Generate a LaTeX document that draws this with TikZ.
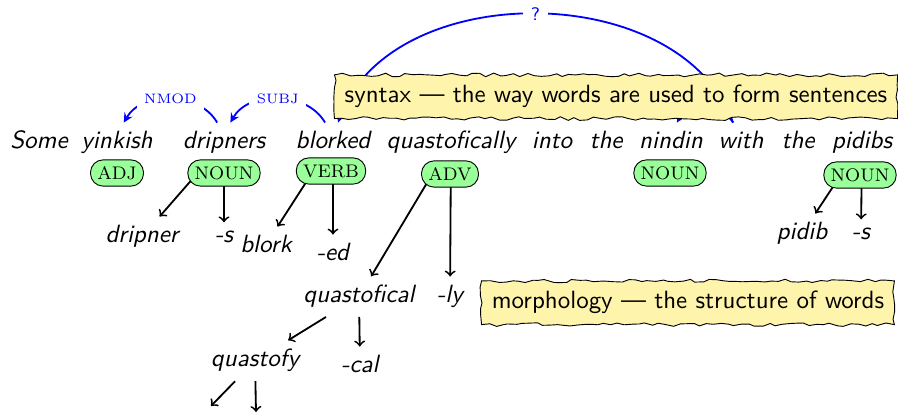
\documentclass[tikz,border=0pt]{standalone}
\usetikzlibrary{decorations.pathmorphing,arrows}
\definecolor{tagfill}{RGB}{153,255,153}
\definecolor{notefill}{RGB}{255,244,172}
\begin{document}
\begin{tikzpicture}[x=0.4386pt,y=0.4386pt,
  word/.style={font=\fontsize{10.95}{13.6}\selectfont\sffamily\itshape, anchor=base,
    inner xsep=3.6pt, inner ysep=3.8pt},
  tag/.style={draw, fill=tagfill, rounded corners=5.5pt,
    font=\fontsize{8}{9.5}\selectfont, inner xsep=3pt, inner ysep=0pt, minimum height=11.5pt},
  morphedge/.style={thick, ->},
  dep/.style={blue, thick, -stealth},
  deplabel/.style={fill=white, text=blue, font=\fontsize{6}{7}\selectfont},
  note/.style={draw, fill=notefill, font=\fontsize{10.95}{13.6}\selectfont\sffamily,
    anchor=base, inner xsep=4.5pt, inner ysep=4.6pt,
    decorate, decoration={random steps, segment length=3pt, amplitude=0.8pt}}
]
\pgfmathsetseed{7}
\useasboundingbox (0,0) rectangle (898,-413);

% the sentence
\node[word] (w1)  at (39,-149)  {Some};
\node[word] (w2)  at (117,-149) {yinkish};
\node[word] (w3)  at (224,-149) {dripners};
\node[word] (w4)  at (333,-149) {blorked};
\node[word] (w5)  at (451,-149) {quastofically};
\node[word] (w6)  at (552,-149) {into};
\node[word] (w7)  at (606,-149) {the};
\node[word] (w8)  at (671,-149) {nindin};
\node[word] (w9)  at (741,-149) {with};
\node[word] (w10) at (798,-149) {the};
\node[word] (w11) at (862,-149) {pidibs};

% morphemes
\node[word] (m1)  at (142,-243) {dripner};
\node[word] (m2)  at (224,-243) {-s};
\node[word] (m3)  at (266,-253) {blork};
\node[word] (m4)  at (333,-261) {-ed};
\node[word] (m5)  at (359,-303) {quastofical};
\node[word] (m6)  at (450,-303) {-ly};
\node[word] (m7)  at (255,-367) {quastofy};
\node[word] (m8)  at (360,-373) {-cal};
\node[word] (m9)  at (802,-240) {pidib};
\node[word] (m10) at (861,-240) {-s};
\coordinate (m11) at (211,-406);
\coordinate (m12) at (256,-412);

% morphological decomposition
\draw[morphedge] (w3) -- (m1);
\draw[morphedge] (w3) -- (m2);
\draw[morphedge] (w4) -- (m3);
\draw[morphedge] (w4) -- (m4);
\draw[morphedge] (w5) -- (m5);
\draw[morphedge] (w5) -- (m6);
\draw[morphedge] (m5) -- (m7);
\draw[morphedge] (m5) -- (m8);
\draw[morphedge] (m7) -- (m11);
\draw[morphedge] (m7) -- (m12);
\draw[morphedge] (w11) -- (m9);
\draw[morphedge] (w11) -- (m10);

% part-of-speech tags
\node[tag] (t2)  at (117,-173) {ADJ};
\node[tag] (t3)  at (224,-173) {NOUN};
\node[tag] (t4)  at (331,-171) {VERB};
\node[tag] (t5)  at (450,-174) {ADV};
\node[tag] (t8)  at (670,-173) {NOUN};
\node[tag] (t11) at (860,-175) {NOUN};

% dependencies
\draw[dep] ([xshift=-3pt]w3.north) to[out=120,in=60] node[deplabel] {NMOD} ([xshift=3pt]w2.north);
\draw[dep] ([xshift=-3.5pt]w4.north) to[out=120,in=60] node[deplabel] {SUBJ} ([xshift=2.8pt]w3.north);
\draw[dep] ([xshift=-3.5pt]w9.north) to[out=120,in=60] ([xshift=2.6pt]w8.north);
\draw[dep] ([xshift=-3.5pt]w9.north) to[out=110,in=70] node[deplabel, font=\sffamily\fontsize{8}{9.5}\selectfont] {?} ([xshift=2.2pt]w4.north);

% notes
\node[note] (syn) at (616,-103) {syntax --- the way words are used to form sentences};
\node[note] (mor) at (688,-309) {morphology --- the structure of words};
\end{tikzpicture}
\end{document}
